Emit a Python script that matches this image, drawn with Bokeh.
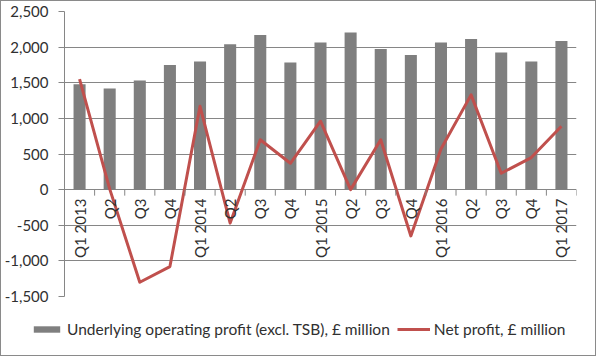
from math import pi
from bokeh.plotting import figure
from bokeh.layouts import column
from bokeh.models import (Range1d, FixedTicker, NumeralTickFormatter, Legend,
                          LegendItem, ColumnDataSource, Plot)
from bokeh.core.properties import value
from bokeh.embed import file_html
from bokeh.resources import INLINE

quarters = ["Q1 2013", "Q2", "Q3", "Q4", "Q1 2014", "Q2", "Q3", "Q4",
            "Q1 2015", "Q2", "Q3", "Q4", "Q1 2016", "Q2", "Q3", "Q4", "Q1 2017"]
underlying = [1480, 1420, 1530, 1750, 1800, 2040, 2170, 1785, 2065,
              2205, 1975, 1890, 2065, 2115, 1925, 1800, 2085]
net_profit = [1550, 10, -1300, -1080, 1170, -470, 700, 370, 960,
              0, 700, -650, 570, 1330, 230, 450, 890]
y_ticks = [-1500, -1000, -500, 0, 500, 1000, 1500, 2000, 2500]
series_names = ["Underlying operating profit (excl. TSB), £ million",
                "Net profit, £ million"]

FONT = "Lato"
TEXT = "#303030"
GRID = "#868686"
BAR = "#7f7f7f"
RED = "#c0504d"
EDGE = "1px solid #8a8a8a"

n = len(quarters)
src = ColumnDataSource(dict(x=[i + 0.5 for i in range(n)], q=quarters,
                            u=underlying, npf=net_profit,
                            zero=[0] * n))

p = figure(width=596, height=310, output_backend="svg", toolbar_location=None,
           x_range=Range1d(0, n), y_range=Range1d(min(y_ticks), max(y_ticks)),
           x_axis_location=None,
           min_border_left=62, min_border_right=21, min_border_top=10,
           min_border_bottom=15)
p.outline_line_color = None
p.background_fill_color = "white"
p.border_fill_color = "white"
p.styles = {"border": EDGE, "border-bottom": "none", "box-sizing": "border-box"}

p.xgrid.visible = False
p.ygrid.ticker = FixedTicker(ticks=y_ticks)
p.ygrid.grid_line_color = GRID
p.ygrid.grid_line_width = 1

ya = p.yaxis[0]
ya.ticker = FixedTicker(ticks=y_ticks)
ya.formatter = NumeralTickFormatter(format="0,0")
ya.axis_line_color = GRID
ya.major_tick_line_color = GRID
ya.major_tick_out = 6
ya.major_tick_in = 0
ya.minor_tick_line_color = None
ya.major_label_text_font = FONT
ya.major_label_text_font_size = "15px"
ya.major_label_text_color = TEXT
ya.major_label_standoff = 10

p.vbar(x="x", top="u", width=0.4, source=src, fill_color=BAR, line_color=None)
p.line(x="x", y="npf", source=src, line_color=RED, line_width=3,
       line_join="round")

# category axis sitting on the zero line
p.ray(x=list(range(n + 1)), y=[0] * (n + 1), length=6, length_units="screen",
      angle=-pi / 2, line_color=GRID, line_width=1)
p.text(x="x", y="zero", text="q", source=src, angle=pi / 2,
       text_align="right", text_baseline="middle", y_offset=9,
       text_font=value(FONT), text_font_size="15px", text_color=TEXT)

# legend strip below the chart (its view window shows none of the data)
q = figure(width=596, height=46, output_backend="svg", toolbar_location=None,
           x_range=Range1d(-3, -2), y_range=Range1d(-3, -2),
           x_axis_location=None, y_axis_location=None,
           min_border_left=0, min_border_right=0, min_border_top=0,
           min_border_bottom=0)
q.grid.visible = False
q.outline_line_color = None
q.border_fill_color = "white"
q.background_fill_color = "white"
q.styles = {"border": EDGE, "border-top": "none", "box-sizing": "border-box"}
lb = q.vbar(x="x", top="u", width=0.4, source=src, fill_color=BAR, line_color=None)
ll = q.line(x="x", y="npf", source=src, line_color=RED, line_width=3)

loc_x = 0
if "frame_align" in Plot.properties():
    p.frame_align = False
    q.frame_align = False
    loc_x = 29

legend = Legend(items=[
    LegendItem(label=series_names[0], renderers=[lb]),
    LegendItem(label=series_names[1], renderers=[ll]),
], location=(loc_x, 18), orientation="horizontal")
legend.border_line_color = None
legend.background_fill_alpha = 0
legend.padding = 0
legend.margin = 0
legend.spacing = 7
legend.glyph_width = 33
legend.glyph_height = 8
legend.label_standoff = 4
legend.label_text_font = FONT
legend.label_text_font_size = "15.5px"
legend.label_text_color = TEXT
q.add_layout(legend, "center")

layout = column(p, q, spacing=0)
open("out.html", "w").write(file_html(layout, INLINE))
